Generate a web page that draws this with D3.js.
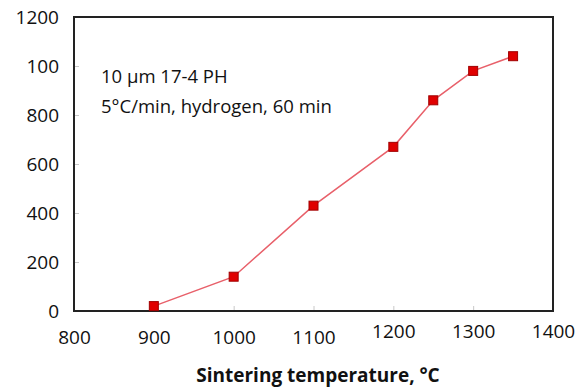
<!DOCTYPE html>
<html>
<head>
<meta charset="utf-8">
<script src="https://cdn.jsdelivr.net/npm/d3@7"></script>
<style>
  html, body { margin: 0; padding: 0; background: #fff; }
  svg { display: block; }
  text { font-family: "Open Sans", sans-serif; fill: #111; }
</style>
</head>
<body>
<svg id="chart" width="583" height="388"></svg>
<script>
// Sintering temperature (°C) and measured values
const temperatures = [900, 1000, 1100, 1200, 1250, 1300, 1350];
const values = [20, 140, 430, 670, 860, 980, 1040];

const xTicks = [800, 900, 1000, 1100, 1200, 1300, 1400];
const yTicks = [0, 200, 400, 600, 800, 1000, 1200];
const yTickLabels = ["0", "200", "400", "600", "800", "100", "1200"];

const noteLines = ["10 µm 17-4 PH", "5°C/min, hydrogen, 60 min"];
const xTitle = "Sintering temperature, °C";

const W = 583, H = 388;
const m = { left: 74, right: 30, top: 17, bottom: 77 };

const svg = d3.select("#chart");

const x = d3.scaleLinear().domain([800, 1400]).range([m.left, W - m.right]);
const y = d3.scaleLinear().domain([0, 1200]).range([H - m.bottom, m.top]);

// inward tick marks and labels
const xAxis = d3.axisBottom(x).tickValues(xTicks).tickSize(-5).tickPadding(19.5).tickFormat(d3.format("d"));
const yAxis = d3.axisLeft(y).tickValues(yTicks).tickSize(-5).tickPadding(15)
  .tickFormat((d, i) => yTickLabels[i]);

const gx = svg.append("g").attr("transform", `translate(0,${H - m.bottom})`).call(xAxis);
const gy = svg.append("g").attr("transform", `translate(${m.left},0)`).call(yAxis);

[gx, gy].forEach(g => {
  g.select(".domain").remove();
  g.selectAll(".tick line").attr("stroke", "#c8c8c8").attr("stroke-width", 1);
  g.selectAll(".tick text").attr("font-size", 19).attr("fill", "#111")
    .attr("font-family", "'Open Sans', sans-serif");
});
// the upper temperature labels sit a little higher
gx.selectAll(".tick text").filter(d => d >= 1200).attr("y", 13.5);

// plot frame
svg.append("rect")
  .attr("x", m.left).attr("y", m.top)
  .attr("width", W - m.right - m.left).attr("height", H - m.bottom - m.top)
  .attr("fill", "none").attr("stroke", "#222").attr("stroke-width", 2);

// data line
const line = d3.line().x((d, i) => x(temperatures[i])).y(d => y(d));
svg.append("path")
  .datum(values)
  .attr("d", line)
  .attr("fill", "none")
  .attr("stroke", "#e8606a")
  .attr("stroke-width", 1.5);

// square markers
const ms = 9;
svg.append("g").selectAll("rect")
  .data(values)
  .join("rect")
  .attr("x", (d, i) => x(temperatures[i]) - ms / 2)
  .attr("y", d => y(d) - ms / 2)
  .attr("width", ms).attr("height", ms)
  .attr("fill", "#e00000")
  .attr("stroke", "#a00000")
  .attr("stroke-width", 1);

// annotation
svg.append("g").selectAll("text")
  .data(noteLines)
  .join("text")
  .attr("x", 101)
  .attr("y", (d, i) => 83 + i * 29.5)
  .attr("font-size", 18.5)
  .text(d => d);

// x-axis title
svg.append("text")
  .attr("x", 318)
  .attr("y", 382)
  .attr("text-anchor", "middle")
  .attr("font-size", 19)
  .attr("font-weight", "bold")
  .text(xTitle);
</script>
</body>
</html>
